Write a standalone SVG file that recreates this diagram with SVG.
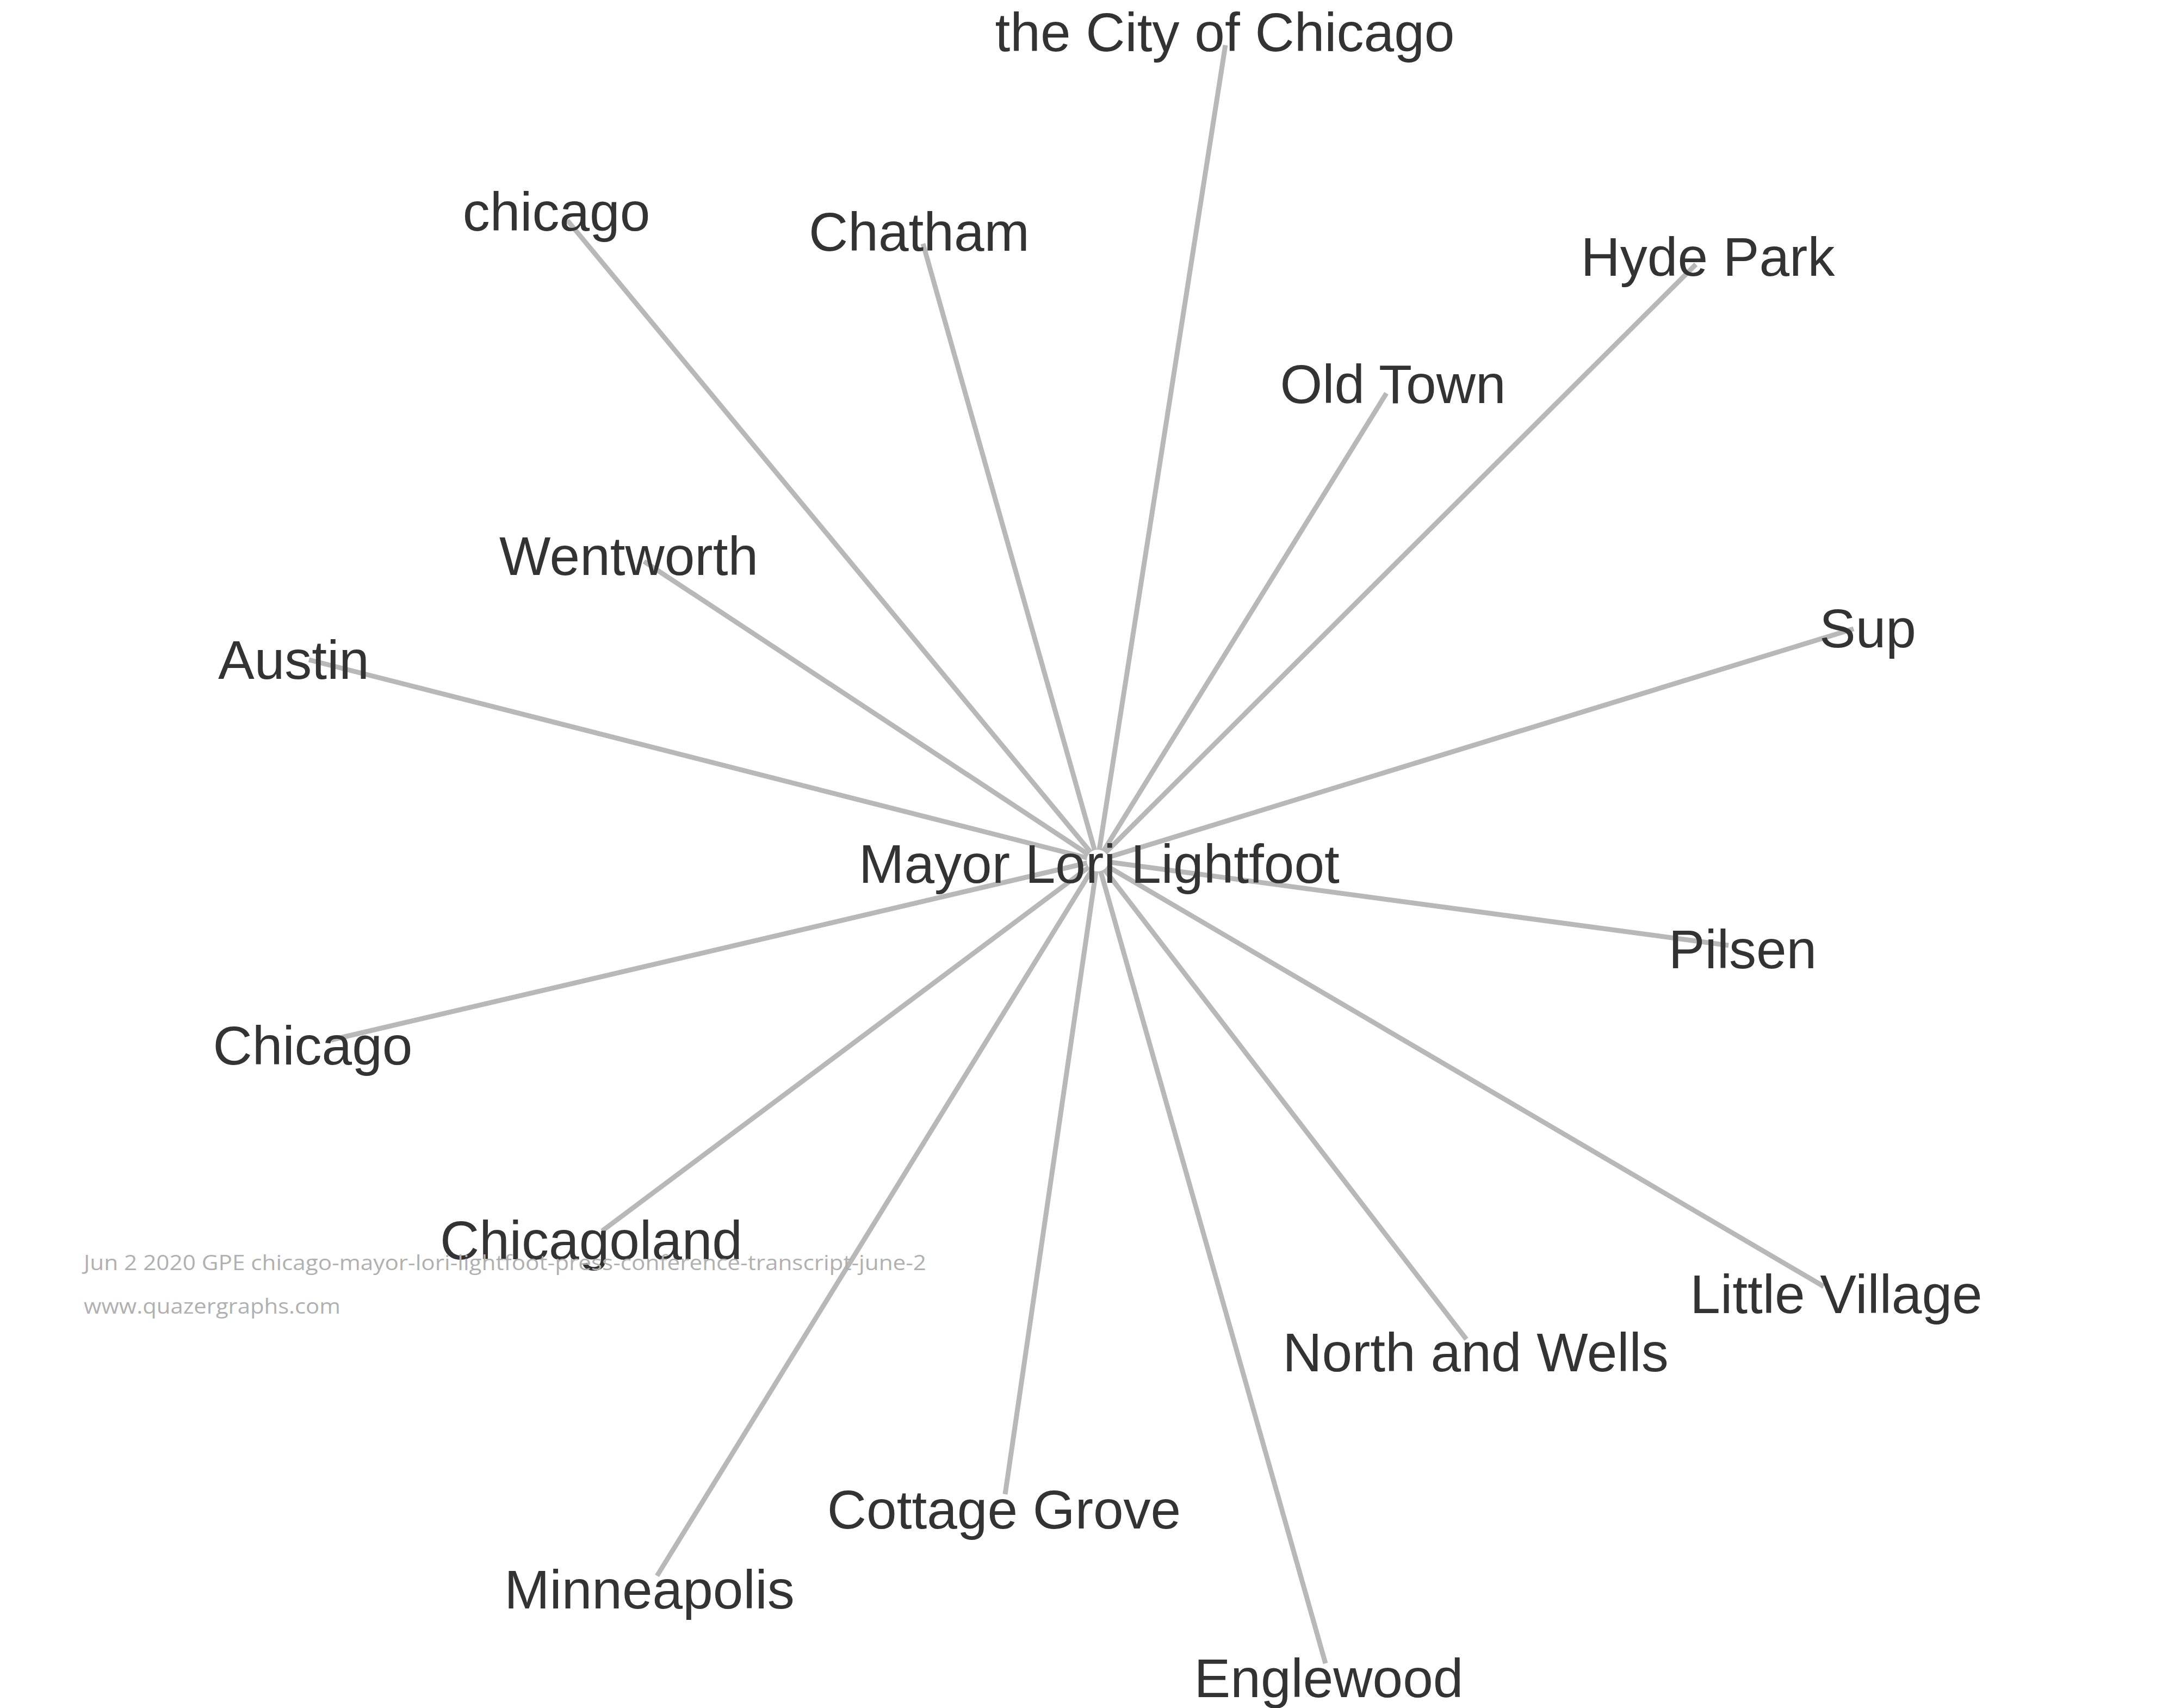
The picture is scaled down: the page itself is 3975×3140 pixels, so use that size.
<svg xmlns="http://www.w3.org/2000/svg" width="3975" height="3140" viewBox="0 0 3975 3140">
<style>
.edge{stroke:#b8b8b8;stroke-width:9;fill:none}
.lbl{font-family:"Liberation Sans",Arial,sans-serif;font-size:100px;fill:#333333;text-anchor:middle}
.foot{font-family:"Open Sans","Liberation Sans",sans-serif;font-size:39px;fill:#b0b0b0}
</style>
<rect width="3975" height="3140" fill="#ffffff"/>
<g id="connectors">
<line class="edge" x1="2018" y1="1582" x2="2253" y2="83"/>
<line class="edge" x1="2018" y1="1582" x2="1043" y2="405"/>
<line class="edge" x1="2018" y1="1582" x2="1697" y2="448"/>
<line class="edge" x1="2018" y1="1582" x2="3118" y2="486"/>
<line class="edge" x1="2018" y1="1582" x2="2549" y2="723"/>
<line class="edge" x1="2018" y1="1582" x2="1184" y2="1032"/>
<line class="edge" x1="2018" y1="1582" x2="568" y2="1213"/>
<line class="edge" x1="2018" y1="1582" x2="3408" y2="1156"/>
<line class="edge" x1="2018" y1="1582" x2="3178" y2="1738"/>
<line class="edge" x1="2018" y1="1582" x2="608" y2="1912"/>
<line class="edge" x1="2018" y1="1582" x2="1107" y2="2263"/>
<line class="edge" x1="2018" y1="1582" x2="3353" y2="2365"/>
<line class="edge" x1="2018" y1="1582" x2="2696" y2="2462"/>
<line class="edge" x1="2018" y1="1582" x2="1848" y2="2747"/>
<line class="edge" x1="2018" y1="1582" x2="1208" y2="2897"/>
<line class="edge" x1="2018" y1="1582" x2="2437" y2="3058"/>
</g>
<g id="n-mayor"><circle cx="2018" cy="1582" r="20" fill="#ffffff"/><text class="lbl" x="2021" y="1623">Mayor Lori Lightfoot</text></g>
<g id="n-city"><text class="lbl" x="2252" y="94">the City of Chicago</text></g>
<g id="n-chicago-lc"><text class="lbl" x="1023" y="424">chicago</text></g>
<g id="n-chatham"><text class="lbl" x="1690" y="461">Chatham</text></g>
<g id="n-hydepark"><text class="lbl" x="3140" y="507">Hyde Park</text></g>
<g id="n-oldtown"><text class="lbl" x="2561" y="741">Old Town</text></g>
<g id="n-wentworth"><text class="lbl" x="1156" y="1057">Wentworth</text></g>
<g id="n-austin"><text class="lbl" x="540" y="1248">Austin</text></g>
<g id="n-sup"><text class="lbl" x="3434" y="1190">Sup</text></g>
<g id="n-pilsen"><text class="lbl" x="3204" y="1780">Pilsen</text></g>
<g id="n-chicago"><text class="lbl" x="575" y="1957">Chicago</text></g>
<g id="n-chicagoland"><text class="lbl" x="1087" y="2315">Chicagoland</text></g>
<g id="n-littlevillage"><text class="lbl" x="3376" y="2414">Little Village</text></g>
<g id="n-northwells"><text class="lbl" x="2713" y="2521">North and Wells</text></g>
<g id="n-cottagegrove"><text class="lbl" x="1846" y="2810">Cottage Grove</text></g>
<g id="n-minneapolis"><text class="lbl" x="1194" y="2957">Minneapolis</text></g>
<g id="n-englewood"><text class="lbl" x="2443" y="3120">Englewood</text></g>
<g id="footer">
<text class="foot" x="154" y="2335" textLength="1549" lengthAdjust="spacingAndGlyphs">Jun 2 2020 GPE chicago-mayor-lori-lightfoot-press-conference-transcript-june-2</text>
<text class="foot" x="154" y="2415" textLength="472" lengthAdjust="spacingAndGlyphs">www.quazergraphs.com</text>
</g>
</svg>
